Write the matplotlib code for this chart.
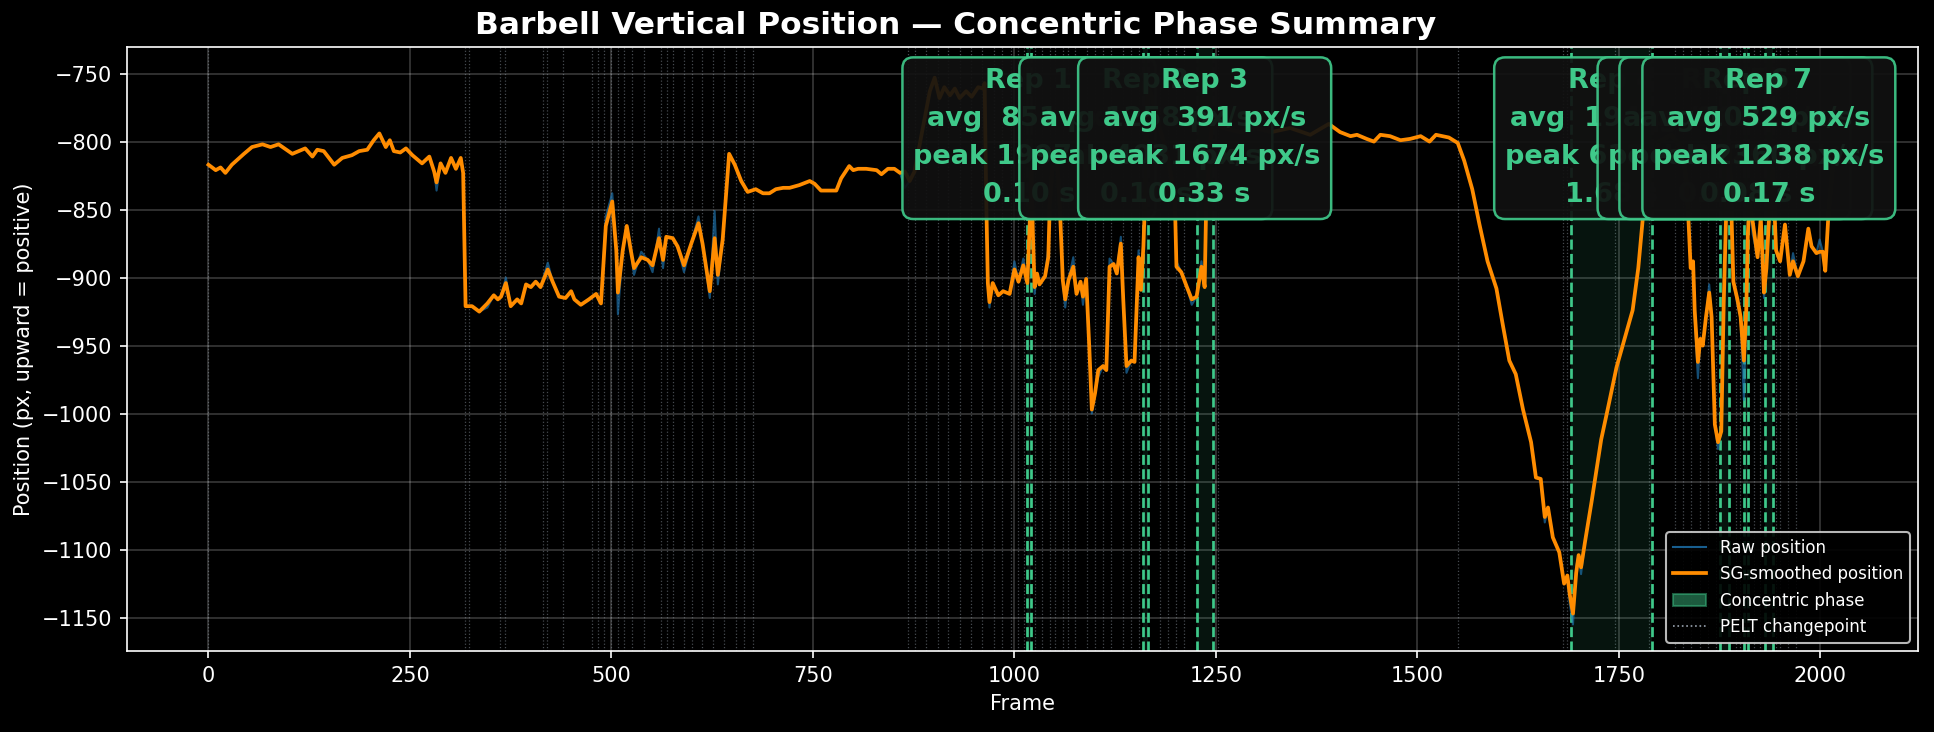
import numpy as np
import matplotlib.pyplot as plt
from matplotlib.lines import Line2D
from matplotlib.patches import Patch

plt.style.use("dark_background")

# smoothed barbell position (px)
frames = [0, 9, 15, 21, 29, 44, 54, 67, 77, 87, 104, 120, 129, 135, 143, 156, 166, 178, 187, 197,
          205, 212, 220, 225, 230, 238, 245, 253, 265, 274, 280, 283, 288, 294, 301, 307, 313, 316, 319, 327,
          336, 346, 354, 359, 363, 369, 375, 383, 388, 394, 400, 406, 412, 421, 427, 435, 443, 450, 454, 462,
          472, 481, 487, 493, 501, 506, 508, 514, 519, 524, 528, 537, 545, 551, 559, 564, 568, 576, 582, 590,
          599, 608, 613, 622, 628, 632, 638, 646, 653, 661, 669, 679, 688, 696, 704, 713, 721, 733, 746, 752,
          760, 779, 785, 795, 800, 806, 816, 829, 835, 843, 851, 858, 864, 870, 876, 895, 901, 907, 913, 920,
          926, 932, 940, 947, 955, 961, 963, 965, 967, 969, 973, 980, 986, 994, 1000, 1005, 1011, 1016, 1019, 1021,
          1023, 1025, 1028, 1031, 1038, 1042, 1044, 1049, 1053, 1056, 1060, 1063, 1067, 1073, 1077, 1082, 1085, 1089, 1093, 1096,
          1100, 1104, 1110, 1114, 1118, 1123, 1127, 1132, 1135, 1139, 1145, 1149, 1154, 1157, 1160, 1162, 1166, 1172, 1180, 1190,
          1197, 1199, 1201, 1207, 1214, 1220, 1226, 1232, 1236, 1238, 1245, 1260, 1280, 1300, 1319, 1342, 1367, 1390, 1404, 1417,
          1425, 1437, 1446, 1454, 1466, 1479, 1491, 1504, 1515, 1523, 1539, 1550, 1558, 1568, 1577, 1587, 1598, 1606, 1614, 1622,
          1631, 1641, 1647, 1653, 1658, 1662, 1668, 1676, 1682, 1686, 1689, 1693, 1697, 1700, 1703, 1708, 1716, 1728, 1736, 1747,
          1757, 1767, 1774, 1780, 1786, 1791, 1800, 1815, 1828, 1834, 1836, 1839, 1842, 1844, 1848, 1851, 1854, 1858, 1862, 1865,
          1869, 1873, 1877, 1880, 1883, 1887, 1889, 1892, 1897, 1901, 1905, 1908, 1910, 1912, 1916, 1922, 1926, 1930, 1933, 1936,
          1939, 1941, 1945, 1950, 1956, 1962, 1966, 1972, 1979, 1985, 1989, 1995, 1999, 2003, 2006, 2010, 2015, 2020]
smooth = [-817, -821, -819, -823, -817, -809, -804, -802, -804, -802, -809, -805, -811, -806, -807, -817, -812, -810, -807, -806,
          -799, -794, -804, -799, -807, -808, -805, -810, -816, -811, -822, -830, -816, -823, -812, -820, -812, -823, -921, -921,
          -925, -919, -913, -916, -914, -904, -921, -916, -919, -905, -907, -903, -907, -894, -903, -914, -915, -910, -916, -920,
          -916, -912, -919, -862, -844, -880, -911, -880, -862, -880, -893, -885, -887, -891, -871, -887, -870, -871, -877, -891,
          -875, -860, -875, -910, -871, -898, -872, -809, -817, -829, -837, -835, -838, -838, -835, -834, -834, -832, -829, -831,
          -836, -836, -827, -818, -821, -820, -820, -821, -824, -820, -820, -823, -822, -829, -822, -763, -753, -768, -760, -766,
          -761, -768, -763, -767, -760, -761, -757, -843, -904, -918, -904, -913, -910, -912, -894, -903, -891, -904, -860, -822,
          -870, -907, -897, -905, -899, -885, -843, -805, -815, -843, -902, -916, -902, -892, -912, -903, -914, -901, -953, -997,
          -985, -968, -965, -968, -892, -890, -897, -875, -916, -965, -961, -962, -885, -909, -877, -843, -760, -770, -790, -810,
          -835, -843, -892, -896, -907, -916, -914, -892, -907, -843, -786, -790, -793, -790, -793, -790, -795, -787, -793, -796,
          -795, -798, -800, -795, -796, -799, -798, -796, -800, -795, -797, -801, -814, -835, -861, -888, -908, -935, -961, -971,
          -997, -1021, -1047, -1048, -1076, -1069, -1091, -1102, -1125, -1119, -1133, -1147, -1117, -1104, -1113, -1094, -1065, -1019, -997, -966,
          -945, -924, -893, -854, -830, -815, -800, -795, -805, -830, -854, -893, -888, -924, -962, -945, -950, -929, -911, -929,
          -1008, -1021, -1013, -919, -854, -805, -840, -903, -916, -929, -961, -924, -867, -845, -859, -885, -856, -911, -893, -859,
          -840, -822, -880, -888, -861, -898, -888, -899, -888, -864, -877, -882, -881, -881, -895, -853, -820, -805]
# raw detections that stick out from the smoothed trace
raw_spikes = {283: -836, 346: -922, 369: -900, 421: -889, 493: -855, 501: -838, 508: -927, 528: -898,
              537: -881, 551: -896, 559: -864, 564: -893, 590: -896, 608: -855, 622: -915, 628: -851,
              632: -905, 864: -834, 969: -922, 1000: -888, 1011: -886, 1025: -912, 1042: -878, 1063: -922,
              1073: -885, 1085: -920, 1093: -958, 1096: -1000, 1104: -973, 1118: -886, 1132: -870, 1139: -970,
              1154: -880, 1160: -872, 1201: -888, 1220: -920, 1232: -888, 1658: -1080, 1689: -1140, 1693: -1155,
              1697: -1112, 1703: -1118, 1844: -930, 1848: -974, 1862: -905, 1873: -1026, 1897: -920, 1905: -990,
              1916: -868, 1930: -915, 1966: -882, 1999: -872}
raw = [raw_spikes.get(f, s) for f, s in zip(frames, smooth)]

# PELT changepoints
changepoints = [0, 318, 323, 362, 368, 415, 420, 440, 476, 483, 491, 500, 508, 516, 526, 540, 562, 569,
                576, 590, 600, 612, 626, 640, 654, 664, 676, 868, 876, 890, 905, 918, 932, 946, 960, 975,
                985, 996, 1005, 1012, 1026, 1034, 1044, 1050, 1060, 1067, 1075, 1090, 1100, 1110, 1120, 1135,
                1145, 1155, 1180, 1190, 1200, 1210, 1252, 1550, 1680, 1686, 1745, 1787, 1820, 1830, 1840,
                1850, 1860, 1870, 1895, 1900, 1918, 1925, 1945, 1950, 1960, 1970]

# concentric phases
rep_start = [1015, 1160, 1226, 1690, 1875, 1905, 1931]
rep_end = [1021, 1166, 1246, 1791, 1886, 1910, 1941]
rep_avg = [851, 1258, 391, 194, 862, 1032, 529]
rep_peak = [1997, 4031, 1674, 612, 2125, 2360, 1238]
rep_dur = [0.10, 0.10, 0.33, 1.68, 0.18, 0.08, 0.17]

GREEN = "#3fc98a"
ORANGE = "#ff8c00"
BLUE = "#1f77b4"

fig = plt.figure(figsize=(1934 / 150, 732 / 150), dpi=150)
fig.patch.set_facecolor("black")
ax = fig.add_axes([0.0657, 0.1107, 0.926, 0.825])
ax.set_facecolor("black")

for cp in changepoints:
    ax.axvline(cp, color="#9aa4b0", ls=":", lw=0.6, alpha=0.45, zorder=1)

for s, e in zip(rep_start, rep_end):
    ax.axvspan(s, e, color=GREEN, alpha=0.1, lw=0, zorder=1)
    ax.axvline(s, color=GREEN, ls="--", lw=1.3, zorder=2)
    ax.axvline(e, color=GREEN, ls="--", lw=1.3, zorder=2)

ax.plot(frames, raw, color=BLUE, lw=1.0, alpha=0.65, zorder=3)
ax.plot(frames, smooth, color=ORANGE, lw=1.8, zorder=4)

for i, (s, e, a, p, d) in enumerate(zip(rep_start, rep_end, rep_avg, rep_peak, rep_dur), start=1):
    ax.text((s + e) / 2, 0.965, f"Rep {i}\navg {a:4d} px/s\npeak {p} px/s\n{d:.2f} s",
            transform=ax.get_xaxis_transform(), ha="center", va="top", linespacing=1.6,
            fontsize=13, fontweight="bold", color=GREEN, zorder=6,
            bbox=dict(boxstyle="round,pad=0.4", fc="#111111", ec=GREEN, lw=1.2, alpha=0.92))

ax.set_xlim(-101, 2121)
ax.set_ylim(-1174.5, -730.5)
ax.grid(True, color="white", alpha=0.22, lw=0.8)
ax.set_axisbelow(True)
ax.set_xlabel("Frame", fontsize=10)
ax.set_ylabel("Position (px, upward = positive)", fontsize=10)
fig.text(0.494, 0.965, "Barbell Vertical Position — Concentric Phase Summary",
         ha="center", va="center", fontsize=15, fontweight="bold")
ax.tick_params(labelsize=10)

handles = [Line2D([0], [0], color=BLUE, lw=1.0, alpha=0.8, label="Raw position"),
           Line2D([0], [0], color=ORANGE, lw=1.8, label="SG-smoothed position"),
           Patch(facecolor=GREEN, edgecolor=GREEN, alpha=0.45, label="Concentric phase"),
           Line2D([0], [0], color="#9aa4b0", ls=":", lw=0.8, label="PELT changepoint")]
leg = ax.legend(handles=handles, loc="lower right", fontsize=8, facecolor="black",
                edgecolor="0.8", framealpha=0.9)
leg.set_zorder(7)

fig.savefig("out.png", dpi=150, facecolor="black")
